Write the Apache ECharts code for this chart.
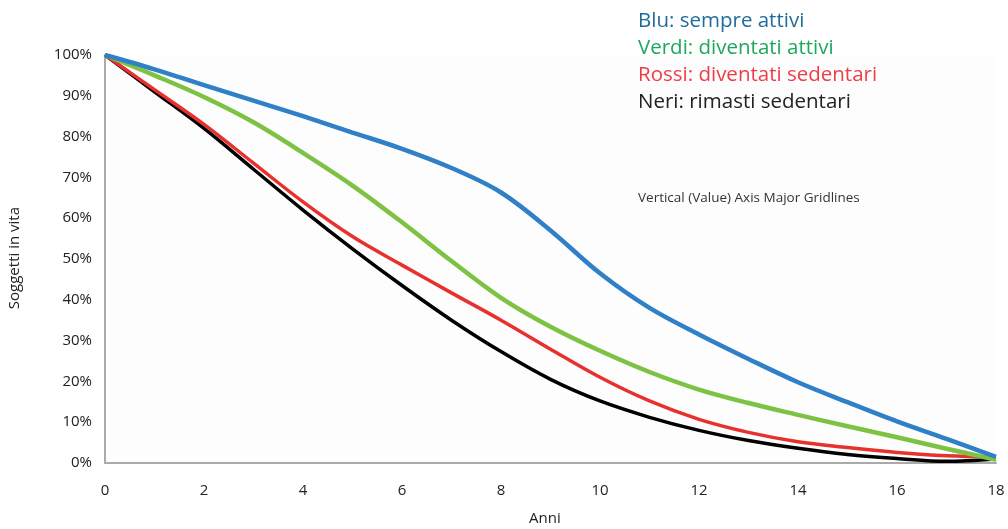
<!DOCTYPE html>
<html>
<head>
<meta charset="utf-8">
<script src="https://cdn.jsdelivr.net/npm/echarts@6/dist/echarts.min.js"></script>
<style>
html,body{margin:0;padding:0;background:#fff;}
#chart{width:1008px;height:529px;}
</style>
</head>
<body>
<div id="chart"></div>
<script>
const years = [0,1,2,3,4,5,6,7,8,9,10,11,12,13,14,15,16,17,18];
const blu   = [100,96.5,92.6,88.8,85,81,77,72.3,66.3,57,46.5,38,31.5,25.5,19.8,14.9,10.2,5.9,1.5];
const verdi = [100,95,89.7,83.5,76,68,59,49.5,40.5,33.4,27.5,22.3,18,14.7,11.8,9,6.3,3.5,0.8];
const rossi = [100,91.5,83,73.5,64,55.5,48.5,41.7,35,27.9,21,15.2,10.7,7.5,5.2,3.8,2.6,1.8,1.5];
const neri  = [100,91,82,72,62,52.5,43.5,35,27.3,20.5,15.2,11.2,8,5.5,3.6,2.1,1.1,0.4,1];
const legendLabels = ['Blu: sempre attivi','Verdi: diventati attivi','Rossi: diventati sedentari','Neri: rimasti sedentari'];
const legendColors = ['#1f6c9c','#1fa85c','#ef3d47','#222222'];

const pairs = arr => years.map((x,i)=>[x,arr[i]]);
const font = 'Open Sans, Lato, sans-serif';

const chart = echarts.init(document.getElementById('chart'));
const legendGraphics = legendLabels.map((t,i)=>({
  type:'text', left:638, top:11 + i*27,
  style:{text:t, fill:legendColors[i], font:'20.5px ' + font}
}));
chart.setOption({
  animation:false,
  backgroundColor:'#fff',
  grid:{left:105,right:12,top:55,bottom:66,show:true,backgroundColor:'#fdfdfe',borderWidth:0},
  xAxis:{
    type:'value',min:0,max:18,interval:2,
    axisLine:{show:true,lineStyle:{color:'#aaaaaa',width:2}},
    axisTick:{show:false},
    splitLine:{show:false},
    axisLabel:{color:'#222',fontSize:15,fontFamily:font,margin:20}
  },
  yAxis:{
    type:'value',min:0,max:100,interval:10,
    axisLine:{show:true,lineStyle:{color:'#aaaaaa',width:2}},
    axisTick:{show:false},
    splitLine:{show:false},
    axisLabel:{color:'#222',fontSize:15,fontFamily:font,margin:13,formatter:v=>v+'%'}
  },
  graphic:[
    ...legendGraphics,
    {type:'text',left:638,top:191,style:{text:'Vertical (Value) Axis Major Gridlines',fill:'#333',font:'13.5px ' + font}},
    {type:'text',left:529,top:511,style:{text:'Anni',fill:'#222',font:'15px ' + font}},
    {type:'text',left:7,top:207,rotation:Math.PI/2,style:{text:'Soggetti in vita',fill:'#222',font:'15px ' + font}}
  ],
  series:[
    {name:'Neri',type:'line',smooth:0.35,showSymbol:false,data:pairs(neri),lineStyle:{color:'#000',width:3.5}},
    {name:'Rossi',type:'line',smooth:0.35,showSymbol:false,data:pairs(rossi),lineStyle:{color:'#e8312f',width:3.5}},
    {name:'Verdi',type:'line',smooth:0.35,showSymbol:false,data:pairs(verdi),lineStyle:{color:'#7dc242',width:4.5}},
    {name:'Blu',type:'line',smooth:0.35,showSymbol:false,data:pairs(blu),lineStyle:{color:'#2f80c6',width:4.5}}
  ]
});
</script>
</body>
</html>
